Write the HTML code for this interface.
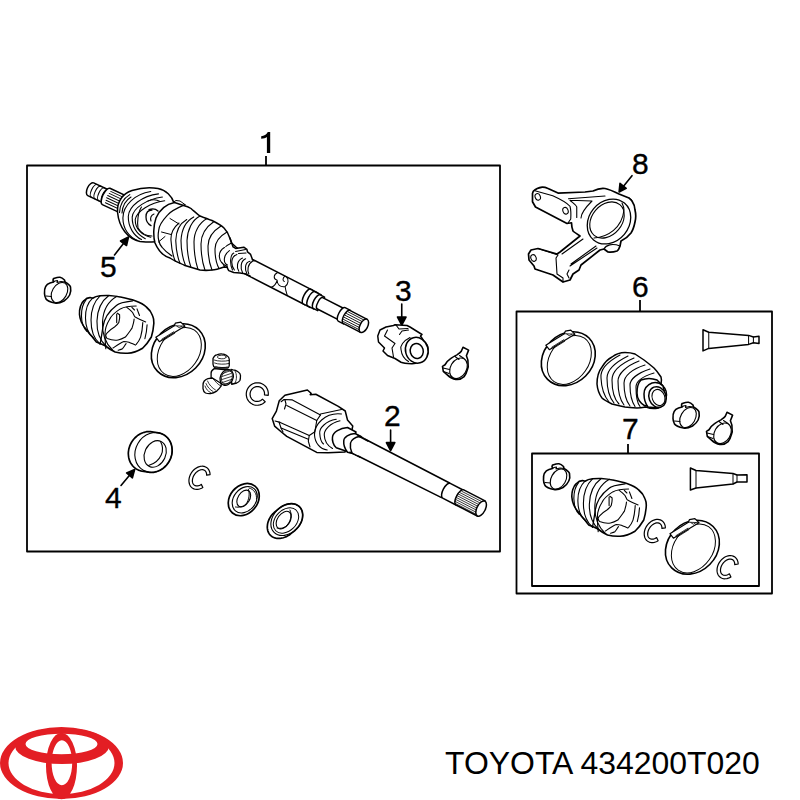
<!DOCTYPE html>
<html><head><meta charset="utf-8">
<style>
html,body{margin:0;padding:0;background:#fff;width:800px;height:800px;overflow:hidden}
svg{position:absolute;left:0;top:0}
.t{position:absolute;font-family:"Liberation Sans",sans-serif;color:#000;white-space:nowrap;transform-origin:0 0}
</style></head><body>
<svg width="800" height="800" viewBox="0 0 800 800" stroke-linejoin="round" stroke-linecap="round">
<g fill="none" stroke="#000" stroke-width="1.8" stroke-linecap="butt">
<rect x="27" y="165.5" width="473" height="386"/>
<rect x="516.5" y="311.5" width="255.5" height="282"/>
<rect x="532" y="453.5" width="227" height="132.5"/>
<line x1="266" y1="156" x2="266" y2="165.5"/>
<line x1="640" y1="300" x2="640" y2="311.5"/>
<line x1="628" y1="444" x2="628" y2="453.5"/>
</g>
<g font-family="Liberation Sans" font-size="30" fill="#000" stroke="#000" stroke-width="0.35">
<text x="632" y="296.5">6</text>
<text x="622" y="438.5">7</text>
<text x="632" y="174">8</text>
<text x="100" y="277">5</text>
<text x="395" y="301">3</text>
<text x="384" y="426">2</text>
<text x="105" y="508">4</text>
</g>
<path d="M266.9,153 L270.2,153 L270.2,132 L267.8,132 C266.5,134.5 264,136 261.2,136.3 L261.2,138.7 C263.8,138.6 265.5,137.9 266.9,137 Z" fill="#000"/>
<!-- arrows -->
<g stroke="#000" stroke-width="1.6" fill="#000">
<line x1="114.5" y1="255" x2="125" y2="241.5"/><path d="M128.5,237 L120.5,241 L126.5,245.5 Z"/>
<line x1="401.75" y1="304" x2="401.75" y2="319"/><path d="M401.75,325 L397.5,317 L406,317 Z"/>
<line x1="390.6" y1="430" x2="390.6" y2="444"/><path d="M390.6,450.6 L386.4,442.6 L394.8,442.6 Z"/>
<line x1="121" y1="485.5" x2="131" y2="473.5"/><path d="M134.7,469.4 L126.6,473 L132.4,477.8 Z"/>
<line x1="632" y1="175.7" x2="622.5" y2="187.5"/><path d="M619.1,192 L620,183.4 L626.2,188.3 Z"/>
</g>

<g id="parts" fill="#fff" stroke="#000" stroke-width="1.5">
<!-- PART 1 assembly -->
<g transform="translate(88,188) rotate(25)">
  <path d="M3,-7 L21,-7 L21,7 L3,7 A3.5,7 0 0 1 3,-7 Z"/>
  <path d="M7,-7 A3,7 0 0 0 7,7 M11,-7 A3,7 0 0 0 11,7 M15,-7 A3,7 0 0 0 15,7 M19,-7 A3,7 0 0 0 19,7" fill="none" stroke-width="1.1"/>
  <path d="M20,-9 L45,-9 L45,9 L20,9 A3.5,9 0 0 1 20,-9 Z"/>
  <path d="M22,-6.5 L45,-6.5 M21.5,-4 L45,-4 M21,-1.5 L45,-1.5 M21,1 L45,1 M21.5,3.5 L45,3.5 M22,6 L45,6" fill="none" stroke-width="0.9"/>
</g>
<!-- housing -->
<path d="M117.5,212 C117,200 124,193 132,190.5 C140,188 150,187 158,188.5 C166,190 172,196 174,203 L170,240 C162,242 150,242.5 140,241.5 C128,239 119,228 117.5,212 Z"/>
<g fill="none" stroke-width="1.1">
<path d="M119.5,212.5 C120,204 124,198 129.8,194.6 M122,213 C122.5,206 126,200 131,197"/>
<path d="M150.75,191.5 C135,194 123,205 122.9,217.9 C123,229 129,237 137.6,240.4"/>
<path d="M158.5,193.9 C142,196 129,206 128.3,216.3 C128,227 134,236 141.5,239.6"/>
<path d="M162.4,197 C147,199 133,208 132.2,217.1 C132,228 138,235 145.3,238.8"/>
<path d="M164.7,200.8 C150,203 137,211 135.25,219.4 C135,229 142,235 150.75,237.3"/>
<path d="M148,201 C152,199.5 156,199 160,201.5 M141.5,207 C138,212 137,222 138,228 C141,233 146,236 152,236"/>
<path d="M152,210 C148,210 146,213 146,217 C146,221 148,224 151,225.6 M149,209.5 C152,208.5 156,209 158,211" stroke-width="1.3"/>
<path d="M154,214 C151,215 150,218 151,221"/>
</g>
<!-- boot + band -->
<path d="M174.5,202.5 L183.5,205.5 C188,206.5 191,208.5 191,208.5 C195,212 198,215 200,216 C205,218 209,219.5 212,220.5 C217,223 221,225 224,228 C227,231 229,235 230,238.5 L231.5,243 L236,247 L240,250 L236,268 C232,268 228,267.5 224,267 C220,268.5 216,270 212,270 C208,270.5 204,270.5 200,270 C195,268.5 190,267 185,265.5 C180,263 174,261 170,258 C163,256 158,250 155,243 C153,236 153.5,225 156,218 C160,209 167,204 174.5,202.5 Z"/>
<path d="M185,204.6 C177,208 170,212 167.5,215.1 C162,221 159,226 158.75,230 C158,234 158,238 158.75,240.5 C159.5,244 160.5,246 162.25,247.5 C165,251 169,254 172,256" fill="none" stroke-width="1.2"/>
<path d="M170,218.5 L179,224 M161.5,232 L171,234.5 M158.5,242 L165,236.5 M173.6,202 L176,200.5 L180,201 L185,204.6" fill="none" stroke-width="1"/>
<g fill="none" stroke-width="1.1">
<path d="M179,223 C173,228 170.5,234 171,240.5 C171.5,248 173,256 175.4,261.5"/>
<path d="M186.75,219.5 C179,224 176,232 175.75,240.5 C176,248 177.5,257 180,263.5"/>
<path d="M193.75,216.9 C186,221 181.5,230 181,240.5 C181,249 182.5,258 185.5,265.5"/>
<path d="M200,216 C192,220 187.5,230 187,240.5 C187,250 188,259 191,267.5"/>
<path d="M207,218.5 C199,223 194,232 194,242 C194,251 195.5,262 198,269.5"/>
<path d="M214,221.5 C206,227 201,235 201,244 C201,253 202.5,263 205,270.3"/>
<path d="M221,226 C213,231 208,238 208,246 C208,255 209.5,264 212,270"/>
<path d="M227,232 C220,236 215,242 215,249 C215,257 216,263 219,268.5"/>
<path d="M231.5,243 C224,246 221,252 221.5,257 C222,262 223,265 225,267"/>
</g>
<!-- shaft -->
<g transform="translate(250,267.3) rotate(27.2)">
  <path d="M-2,-8.2 L66,-8.2 L66,8.2 L-2,8.2 Z" stroke="none"/>
  <path d="M-2,-8.2 L66,-8.2 M-2,8.2 L66,8.2" fill="none"/>
  <path d="M64,-8.2 L72,-8.2 L72,8.2 L64,8.2 A3.2,8.2 0 0 1 64,-8.2 Z"/>
  <path d="M69,-8 L76,-8 L76,8 L69,8 A3.2,8 0 0 1 69,-8 Z"/>
  <path d="M75,-7.6 L80,-7.6 L80,7.6 L75,7.6 A3,7.6 0 0 1 75,-7.6 Z"/>
  <path d="M79,-6.3 L104,-6.3 L104,6.3 L79,6.3 A2.6,6.3 0 0 1 79,-6.3 Z"/>
  <path d="M103,-7.6 L109,-7.6 L109,7.6 L103,7.6 A3,7.6 0 0 1 103,-7.6 Z"/>
  <path d="M108.5,-7.3 L128,-7.3 L128,7.3 L108.5,7.3 A3,7.3 0 0 1 108.5,-7.3 Z"/>
  <path d="M108,-5.2 L128,-5.2 M107,-3 L128,-3 M106.5,-0.8 L128,-0.8 M106.5,1.4 L128,1.4 M107,3.6 L128,3.6 M108,5.6 L128,5.6" fill="none" stroke-width="0.8"/>
  <ellipse cx="128" cy="0" rx="3.8" ry="7.3"/>
  <path d="M27,-8 C24,-4 26,0 30,-1 C32,3 36,4 40,1 C42,-3 40,-7 37,-8 M30,-1 C31,3 30,6 28,8 M40,1 C42,4 44,6 46,8 M35,-8 C34,-5 35,-3 37,-3" fill="none" stroke-width="1"/>
</g>
<!-- small clamp / neck -->
<path d="M224.4,247.5 C228,246 230.5,246 233.1,246.9 L235.6,248.4 L243.75,247.2 L246.9,249.4 L247.5,251.9 L250.6,254.4 L251.9,258.1 L252.5,260 L254.5,261 L252,276.5 L245,273.75 L240,273.1 L233.75,272.5 L228.75,270.6 C227.5,269 226.9,267.5 226.9,266.25 C221,262 219,259 219.4,256.9 C219.5,252 221,249 224.4,247.5 Z" stroke="none"/>
<path d="M230,238 L233.1,246.9 L235.6,248.4 L243.75,247.2 L246.9,249.4 L247.5,251.9 L250.6,254.4 L251.9,258.1 L252.5,260 L254,261 M226.9,266.25 C227.5,268 227.8,269.5 228.75,270.6 L233.75,272.5 L240,273.1 L245,273.75 L250,276" fill="none" stroke-width="1.5"/>
<g fill="none" stroke-width="1.1">
<path d="M224.4,247.5 C217.3,251.8 217.3,262.1 226.9,266.2"/>
<path d="M229.4,250.6 C223.0,255.1 223.0,263.0 227.5,265.0"/>
<path d="M233.8,253.1 C229.8,254.8 229.8,264.1 232.5,270.0"/>
<path d="M236.9,254.4 C230.6,256.6 230.6,265.2 234.4,270.0"/>
<path d="M242.5,258.1 C236.5,260.7 236.5,267.9 238.8,271.2"/>
<path d="M245.6,258.8 C240.3,261.0 240.3,268.6 242.5,272.5"/>
<path d="M250.0,261.2 C244.6,262.4 244.6,269.3 246.9,273.8"/>
<path d="M252.5,261.2 C247.3,264.1 247.3,270.9 248.8,273.8"/>
<path d="M235.6,251.5 L245.5,249.5 M238.5,253.5 L246,253"/>
</g>



<defs>
<g id="bigring">
<ellipse cx="0" cy="0" rx="24.5" ry="29.3" transform="rotate(45)" stroke-width="1.6"/>
<ellipse cx="1" cy="1.2" rx="19.5" ry="26.5" transform="rotate(35 1 1.2)" fill="none" stroke-width="1"/>
<path d="M-22.5,-13.5 L-4,-25 L-3,-27.5 L2.5,-28.5 L4.5,-26.5 L6.5,-24.5 L-19,-9 Z" stroke-width="1.2"/>
<path d="M-16.5,-11.5 L-4.5,-19 M-15.5,-10 L-3.5,-17.5 M-1.5,-24.5 L1,-23 L3.5,-24.5 M-4,-25 L6.5,-24.5" fill="none" stroke-width="0.8"/>
</g>
<g id="innerboot">
<path d="M79.5,314.5 C79,309 81,303 83.85,300.75 C86,298.5 88,297.5 90.1,297.6 L92.6,298.25 C95,296.5 97.5,296 100.1,295.75 C103,295.5 106,295.3 108.85,295.5 C113,295.8 117,296.3 120.1,297 C125,298 130,299 135.1,300.75 C140,302.5 144,304.5 146.35,307 C149.5,309.5 151.5,312.5 152.6,315.75 C153.6,318 154,321 153.85,323.25 C153.5,328 152.8,332.5 151.35,337 C149,341 146,345 142.6,348.25 C138,351 133,353 127.6,353.25 C123,353.5 119,353 115.1,352 C111,350 108,348 105.1,345.75 C102,344 99,343 96.35,342 C95,340.5 93.8,338.8 92.6,337 C90,334.5 88,332 86.35,329.5 C84,327 82.5,324.5 81.35,322 C80.3,319.5 79.7,317 79.5,314.5 Z" stroke-width="1.6"/>
<g fill="none" stroke-width="1.1">
<path d="M86.0,299.8 C79.8,307.4 79.8,324.8 87.0,331.5"/>
<path d="M92.6,298.2 C83.0,307.0 83.0,328.9 93.2,338.0"/>
<path d="M100.1,295.8 C88.1,307.0 88.1,333.3 99.5,343.5"/>
<path d="M108.8,295.5 C93.4,307.0 93.4,335.0 106.5,346.5"/>
<path d="M117.0,296.3 C98.4,306.8 98.4,336.4 112.5,350.0"/>
<path d="M132.6,300.9 C124,302 119,303 116.7,305.2 C109,311 104,319 102.9,327 C102,333 101,340 100,344.4" stroke-width="1.3"/>
<path d="M136.2,306 C129,306 124,307 120.3,308.9 C114,313 111,316 109.4,319.7 C106,325 105,330 105,334.2 C105,340 105.5,345 105.8,348.7"/>
<path d="M117.4,313.2 L119.6,314.7 C120,317 119.5,320 118.8,322.6 C117.5,325 116,326 114.5,327 C111,329 109,331 107.2,332.8 C106,334 105.5,336 105.8,335.7 C106,337 106.5,338 107.2,338.6 C111,340 115,340.5 118.1,340 C121,339.5 123,338.5 125.4,337.1 C128,334 130,331 131.9,328.4 C133,325 134,322 134.1,319"/>
<path d="M116.7,314 L116.7,322.6"/>
<path d="M126.8,307.4 C129,309 131,310.5 132.6,312.5 C133.5,314 134,315.5 134.8,316.8 C137,318 139,319 140.6,319.7 L145.7,321.9"/>
<path d="M131.9,307.4 L134.5,310 M137,308.9 L139.5,315.5"/>
<path d="M142.8,322.6 C142.5,328 141.8,333 140.6,337.1 C139.5,340 138,342.5 136.2,344.4 M147.1,324.8 C146.8,330 146,335 144.9,338.6"/>
<path d="M113,348 C116,346 120,343 123.9,341.5 C126,341.5 127.5,341.8 129,342.2 C131,343 133,344 135.5,345.1 M118.1,350.2 C119.5,349.8 121,349.5 122.5,348.7 C124,347 125,345 126.1,343.7"/>
</g>
</g>
<g id="clamp1">
<path d="M-13,3.5 C-13.5,-3 -10.5,-6 -7.5,-7 L-4,-8 L-4.5,-10 L-4,-11.5 C-1,-12.5 0,-13 2.5,-12.75 C4,-12.5 6,-11 7,-10 L7.5,-8 C10,-6.5 12.5,-5 13,-3 C14,2 12.5,7 6.5,11 C2.5,13 -0.5,13.5 -2.5,13 C-7.5,12 -10.5,10.5 -11.5,9 C-12.5,7 -13,5 -13,3.5 Z" fill="#fff" stroke-width="1.6"/>
<ellipse cx="2" cy="2.5" rx="7.3" ry="10.8" transform="rotate(30 2 2.5)" fill="none" stroke-width="1.1"/>
<path d="M-11.5,6 L-6,6.5 M-4,-8 L-2.5,-9 L0,-9.5 L-0.5,-7.5 L3.5,-8.5 L7.5,-8" fill="none" stroke-width="1.1"/>
</g>
<g id="clamp2">
<path d="M8,-17.7 L13.6,-14.9 L11.4,-9.25 C12.8,-6 13.2,-4 13,-2.5 C13.5,1 13.2,3 12.5,4.25 C11.5,8 10.5,10 9.1,11.6 C6.5,14 3.5,14.8 0.7,14.4 C-3,14 -5.5,12 -7.75,9.9 L-11.7,6.5 L-12.5,1.4 L-10,-0.25 C-8.5,-3 -6.5,-5 -4.4,-6.4 C-1.5,-8.5 0.5,-9.5 2.4,-10.4 C4,-11.5 5.5,-12.5 6.3,-13.75 Z" fill="#fff" stroke-width="1.6"/>
<ellipse cx="3.5" cy="3.3" rx="8" ry="11" transform="rotate(30 3.5 3.3)" fill="none" stroke-width="1.1"/>
<path d="M-0.3,-8.7 L4,-5.5 M4.5,-9.5 L9,-6.5 M-12,3 L-5.5,4.5 M-11.5,6.5 L-6,8.5" fill="none" stroke-width="1.1"/>
</g>
</defs>
<use href="#clamp1" x="57.5" y="290"/>

<use href="#bigring" x="178.3" y="350.7"/>
<use href="#innerboot"/>

<!-- tripod -->
<path stroke-width="1.3" d="M214.25,368.6 C212,370 211,372 211.1,373 L211.1,378 L220,384 L228,370 Z"/>
<path stroke-width="1.3" d="M231,369.5 L233,369.9 C235,370 237,371 238,371.75 C240,373 240.5,374 240.5,375.5 C240.5,377 240.5,379 239.9,380.5 C239,382 238,382.5 236.75,383 L231.75,384.25 Z"/>
<path d="M235,371 C237,374 237,380 235,383" fill="none" stroke-width="0.8"/>
<path stroke-width="1.3" d="M213,358.6 C214,356 215.5,355 216.75,354.9 C219,354 221,353.8 221.75,353.9 C224,354 226,355 226.75,355.5 C228.5,356.5 229.25,358 229.25,359.25 L229.25,365.5 C229,367 228,368 227.4,368 L215.5,368 C214,367 213,365.5 213,364.25 Z"/>
<g fill="none" stroke-width="0.8">
<path d="M214,360 C218,361.5 225,361.5 229,360.5 M214.5,363 C218,364.5 225,364.5 229,363.5 M215.5,366.5 C219,367.8 225,367.8 227.5,367"/>
<ellipse cx="221.75" cy="357" rx="4.4" ry="1.8"/>
</g>
<ellipse stroke-width="1.3" cx="226.75" cy="377.4" rx="6.3" ry="8.2" transform="rotate(25 226.75 377.4)"/>
<g fill="none" stroke-width="0.75">
<ellipse cx="226.9" cy="377.3" rx="5.2" ry="7" transform="rotate(25 226.9 377.3)"/>
<path d="M223,373.5 L229.5,371 M222,376.5 L231,373.5 M222,379.5 L231.5,376.5 M222.5,382.5 L231,379.5 M224.5,384.5 L230,382.5"/>
</g>
<path stroke-width="1.3" d="M203,385.5 C203,383 203.5,382 204.25,381 C205.5,379.5 207,378.8 208,378.6 L212.4,378 L220.5,383 C221.5,384 221.5,385 221.1,386 C219.5,388.5 218,390 216.75,391.1 C214.5,392.5 212.5,393.3 210.5,393.6 C208.5,393.8 207,393.5 205.5,393 C204,392 203.2,390.5 203,388.6 Z"/>
<path d="M205,386 C206,389 208,391.5 210.5,392.5 M206,383.5 C207.5,387 210,390 213,391.5 M207.5,381 C209,384.5 212,388 215.5,390 M212.4,378 C215,381 218,385 221,386" fill="none" stroke-width="0.8"/>

<!-- PART 2 housing + shaft -->
<path d="M284.9,395.2 L307.4,390 L311.1,393.3 L310.2,394.7 L315.8,394.25 L338.3,406.4 L345.25,411 L347.5,420 L352.75,426 L352,429.75 L345,452 L328,452.8 L316.75,452.4 L286.75,436.4 L281.1,431.75 L274.6,426.1 L272.2,418.6 L276.4,411.1 L279.25,400.8 Z"/>
<g fill="none" stroke-width="1.1">
<path d="M281.1,401.75 L284,399.5 L292.4,399.9 L320.5,414.9 M286.75,405.5 L316.75,420.5"/>
<path d="M285,400 L286,404 L284.5,409 M279,422 L281,428 L283,432"/>
<path d="M320.5,414.9 L316.75,420.5 L314.9,431.75 L309.25,435.5 L308.3,441.1 L310,447"/>
<path d="M275,421 L280.2,422.4 L309.25,435.5 M281.1,428 L308.3,439.25"/>
<path d="M320.5,414 L341.5,409.5"/>
<path d="M341.5,414 C325,412 314,425 314.5,435 C315,443 320,449 327.25,450"/>
<path d="M336.25,419.25 C326,421 319,428 319.75,433.5 C320,438 321,442 323.5,444"/>
<path d="M340,420.75 C330,423 324,430 324.25,435 C324.5,441 328,446 332.5,448.5"/>
</g>
<!-- shaft 2 -->
<path d="M358,435.5 L449.6,483 L441.5,497.7 L350,452 Z"/>
<!-- neck cylinders -->
<path d="M347.5,427.5 L356,432 L350,452.5 L336.25,447.75 C333,445 332,440 332.5,437 C333,432 340,428 347.5,427.5 Z"/>
<path d="M355,433.5 L361,436.5 L353,453.5 L347.5,452.25 C345,449 343.5,444 343.75,441 C344,437 349,434 355,433.5 Z"/>
<path d="M359.5,436.5 L366,439.5 L358,456 L352,453 C350.5,450 350,446 350.5,443 C351,440 355,437 359.5,436.5 Z" stroke="none"/>
<path d="M361.75,437.25 L359.5,436.5 C355,437 351,440 350.5,443 C350,446 350.5,450 352,453" fill="none"/>
<path d="M358,435.8 L368,441 M350,452.2 L360,457.2" fill="none"/>
<g transform="translate(370,451.35) rotate(27.25)">
  <path d="M86,-8.3 L101,-8.3 L101,8.3 L86,8.3 A3.5,8.3 0 0 1 86,-8.3 Z"/>
  <path d="M101,-8.6 L125,-8.6 L125,8.3 L101,8.3 A3.5,8.3 0 0 1 101,-8.6 Z"/>
  <path d="M100,-6.5 L125,-6.5 M98.5,-4.5 L125,-4.5 M98,-2.5 L125,-2.5 M97.7,-0.5 L125,-0.5 M97.7,1.5 L125,1.5 M98,3.5 L125,3.5 M98.5,5.5 L125,5.5 M99.5,7.3 L125,7.3" fill="none" stroke-width="0.7"/>
  <ellipse cx="125" cy="0" rx="4.2" ry="8.3"/>
</g>

<!-- PART 3 -->
<path d="M377.75,336 L380,330 L386,327 L393.5,325.5 L395,324.75 L407,325.5 L410,327 L422,334.5 L420.5,336 L423.5,340.5 C426,343 428,346 428,348 C428.5,352 427.5,355 426.5,357 C425,359 423,361 420.5,361.5 C417,363 414,364 411.5,363.75 C407,363.5 403,363 401,362.25 L395,358.5 L387.5,355.5 L383,351 L384.5,348 L381.5,345 L378.5,342 Z"/>
<ellipse cx="416.75" cy="350.25" rx="11.25" ry="13" transform="rotate(-15 416.75 350.25)"/>
<ellipse cx="416.75" cy="351" rx="6.5" ry="7.5" transform="rotate(-15 416.75 351)"/>
<g fill="none" stroke-width="1.1">
<path d="M410,337.5 C403,341 400,346 401,349.5 C401.5,354 404,359 408.5,361.5"/>
<path d="M387.5,330 L384.5,336 L395,343.5 L392,348 L393.5,357"/>
<path d="M399.5,334.5 L402,331 L408.5,330 M396,325 L399,329 L408,328.5"/>
</g>
<use href="#clamp2" x="455" y="365"/>

<!-- ring 4 -->
<path d="M128.3,453.3 L128.4,451.9 L128.6,450.5 L128.8,449.1 L129.2,447.7 L129.6,446.4 L130.1,445.1 L130.7,443.8 L131.4,442.5 L132.2,441.3 L133.0,440.1 L133.9,439.0 L134.8,438.0 L135.9,437.0 L136.9,436.1 L138.0,435.2 L139.2,434.5 L140.4,433.8 L141.6,433.2 L142.9,432.7 L144.2,432.3 L145.5,432.0 L146.8,431.7 L148.1,431.6 L149.4,431.6 L150.7,431.7 L151.9,431.8 L158.4,432.8 L159.7,433.1 L160.9,433.5 L162.1,433.9 L163.2,434.4 L164.3,435.1 L165.3,435.8 L166.3,436.6 L167.2,437.5 L168.1,438.4 L168.8,439.4 L169.5,440.5 L170.2,441.6 L170.7,442.8 L171.2,444.1 L171.5,445.3 L171.8,446.6 L172.0,448.0 L172.1,449.3 L172.2,450.7 L172.1,452.1 L171.9,453.5 L171.7,454.9 L171.3,456.3 L170.9,457.6 L170.4,458.9 L169.8,460.2 L169.1,461.5 L168.3,462.7 L167.5,463.9 L166.6,465.0 L165.7,466.0 L164.6,467.0 L163.6,467.9 L162.5,468.8 L161.3,469.5 L160.1,470.2 L158.9,470.8 L157.6,471.3 L156.3,471.7 L155.0,472.0 L153.7,472.3 L152.4,472.4 L151.1,472.4 L149.8,472.3 L148.6,472.2 L142.1,471.2 L140.8,470.9 L139.6,470.5 L138.4,470.1 L137.3,469.6 L136.2,468.9 L135.2,468.2 L134.2,467.4 L133.3,466.5 L132.4,465.6 L131.7,464.6 L131.0,463.5 L130.3,462.4 L129.8,461.2 L129.3,459.9 L129.0,458.7 L128.7,457.4 L128.5,456.0 L128.4,454.7 Z" stroke-width="1.7"/>
<ellipse cx="153.5" cy="452.5" rx="18" ry="20.5" transform="rotate(30 153.5 452.5)" fill="none" stroke-width="1.1"/>
<ellipse cx="155.2" cy="453.9" rx="10.5" ry="13.8" transform="rotate(25 155.2 453.9)" fill="none" stroke-width="1.1"/>
<path d="M160.5,441.5 C163,446 163,451 161.2,455 C159,460 154,464 148.5,465.5" fill="none" stroke-width="1.1"/>

<!-- ring A -->
<ellipse cx="243.75" cy="499.6" rx="13.9" ry="17.5" transform="rotate(40 243.75 499.6)" stroke-width="1.7"/>
<ellipse cx="244.75" cy="499.75" rx="11" ry="14.5" transform="rotate(40 244.75 499.75)" fill="none" stroke-width="1.1"/>
<path d="M249,488 C254,489 257,494 256.5,499" fill="none" stroke-width="0.9"/>
<ellipse cx="243.75" cy="498.5" rx="5.8" ry="9.2" transform="rotate(32 243.75 498.5)" fill="none" stroke-width="1.1"/>
<path d="M248.5,489.5 C250,494 249,500 246,504 C243,507 239,507.5 235.5,507" fill="none" stroke-width="1"/>

<!-- ring B -->
<path d="M267.3,526.7 L267.4,525.6 L267.5,524.5 L267.7,523.4 L268.0,522.3 L268.4,521.1 L268.8,520.0 L269.3,519.0 L269.9,517.9 L270.5,516.8 L271.2,515.8 L272.0,514.8 L272.8,513.9 L273.7,513.0 L274.6,512.1 L275.5,511.3 L279.1,508.4 L280.1,507.6 L281.1,506.9 L282.2,506.3 L283.3,505.7 L284.3,505.2 L285.4,504.8 L286.6,504.4 L287.7,504.1 L288.8,503.9 L289.9,503.8 L291.0,503.7 L292.0,503.7 L293.0,503.8 L294.1,504.0 L295.0,504.2 L296.0,504.5 L296.8,504.9 L297.7,505.4 L298.5,505.9 L299.2,506.5 L299.9,507.2 L300.5,507.9 L301.0,508.7 L301.5,509.6 L301.9,510.4 L302.2,511.4 L302.4,512.3 L302.6,513.4 L302.7,514.4 L302.7,515.4 L302.6,516.5 L302.5,517.6 L302.3,518.7 L302.0,519.8 L301.6,521.0 L301.2,522.1 L300.7,523.1 L300.1,524.2 L299.5,525.3 L298.8,526.3 L298.0,527.3 L297.2,528.2 L296.3,529.1 L295.4,530.0 L294.5,530.8 L290.9,533.7 L289.9,534.5 L288.9,535.2 L287.8,535.8 L286.7,536.4 L285.7,536.9 L284.6,537.3 L283.4,537.7 L282.3,538.0 L281.2,538.2 L280.1,538.3 L279.0,538.4 L278.0,538.4 L277.0,538.3 L275.9,538.1 L275.0,537.9 L274.0,537.6 L273.2,537.2 L272.3,536.7 L271.5,536.2 L270.8,535.6 L270.1,534.9 L269.5,534.2 L269.0,533.4 L268.5,532.5 L268.1,531.7 L267.8,530.7 L267.6,529.8 L267.4,528.7 L267.3,527.7 Z" stroke-width="1.7"/>
<ellipse cx="286.8" cy="519.6" rx="13.5" ry="18" transform="rotate(45 286.8 519.6)" fill="none" stroke-width="1.1"/>
<ellipse cx="286" cy="520.5" rx="10.5" ry="14.5" transform="rotate(45 286 520.5)" fill="none" stroke-width="1"/>
<ellipse cx="283.7" cy="520.1" rx="6.2" ry="9.8" transform="rotate(35 283.7 520.1)" fill="none" stroke-width="1.1"/>
<path d="M290,510 C292,514 291,520 288,524 C285,528 281,529 277,528" fill="none" stroke-width="1"/>

<!-- PART 8 knuckle -->
<path stroke-width="1.7" d="M533.25,191.25 C536,188.5 539,187.5 542.25,187.1 C545,187 546,187.5 547.5,188.25 L558,193.1 L585,192 L593,191 C597,189 601,188 605,188.5 C610,189.5 614,191.5 619,194 L629,198 L632,201 C634,204 635,207 635,210 C636,214 636,218 635,222 C634,227 633,230 631,233 C628,237 625,239 621,241 L620,246 C619,249 618,250.5 617,251 C614,252 611,252.5 608,252 L604,249 L600,250 L581,265 L579,270 L573,274 L570,280 L563,282 L553,275 L535,269 L534,266 L529,260 L528.5,254 L531,250 L538,248.5 L557,254 L560,252 L580,236 C577,234 574,232 573,231 C572,228 571.5,225 571.5,222.75 L567,223.5 L535.5,207 L532.5,201.75 L532.5,193.5 Z"/>
<g fill="none" stroke-width="1.1">
<path d="M534,190.5 L552.75,195.75 C560,199 567,203 570,206.25 C571,210 571,215 570.75,219 L568,223"/>
<ellipse cx="537.75" cy="196.9" rx="2.6" ry="3.4" transform="rotate(-20 537.75 196.9)"/>
<ellipse cx="565.5" cy="210.75" rx="2.6" ry="3.4" transform="rotate(-20 565.5 210.75)"/>
<path d="M568.5,198.75 L605,196 M570,200.25 L592,201 C585,208 581,214 581,218 M570,200.25 C573,203 576,205 576.75,207 L576.75,217.5"/>
<ellipse cx="609" cy="221.5" rx="20" ry="24" transform="rotate(40 609 221.5)" stroke-width="1.3"/>
<ellipse cx="607" cy="220" rx="15" ry="20" transform="rotate(40 607 220)"/>
<path d="M594,238 C608,237 622,228 624,210 C624,207 623,205 622,203"/>
<path d="M604,249 C606,245 612,243 620,246 M629,198 C631,199 632,200 632,201"/>
<path d="M538,248.5 L558,255 L556,258 L557,274 L563,278 L563,282"/>
<ellipse cx="533.5" cy="258" rx="2.6" ry="3.4" transform="rotate(-20 533.5 258)"/>
<path d="M562,254 L583,239 M570,266 L597,248 M571,264 L596,246 M569,270 L567,274 L569,278"/>
</g>

<!-- BOX 6 -->
<use href="#bigring" x="568.3" y="358.7"/>
<!-- boot 6 -->
<path d="M625,352.5 C629,352.5 632,353 635,354 C638,356 641,358 644,360 C648,363 651,365.5 654,368 C657,371 659,374 661,377 C662,380 661.5,382 661,384 L663,386 C666,389 667,394 666,398 C665,403 662,407 658,408 C654,409 650,408.5 646,407 C643,407.5 640,408 637,408 C632,407.8 628,407.5 625,407 C620,406 616,405 612,404 C608,402 604,400 602,398 C599,394 597.5,390 597,384 C597,378 598,372 602,367 C605,362 608,359 612,357 C616,354 620,352.5 625,352.5 Z"/>
<g fill="none" stroke-width="1.1">
<path d="M620,355 C607,362 600,370 601,378 C601.5,390 604,396 609,402"/>
<path d="M628,356 C614,363 607,370 607,378 C607,390 609,397 614,403"/>
<path d="M634,358 C620,364 612,372 612,380 C612,392 614,399 619,404"/>
<path d="M639,361 C626,366 618,374 618,381 C618,393 620,400 624,405"/>
<path d="M645,365 C632,369 624,376 624,383 C624,394 626,401 630,406"/>
<path d="M650,369 C638,373 630,379 630,385 C630,396 632,402 635,406.5"/>
<path d="M654,373 C644,376 636,381 636,387 C636,397 637,403 640,406.5"/>

</g>
<path d="M641,380 C646,378 652,378 657,380 L662,385 L660,402 L645,406 C640,403 637,398 637,393 C637,387 638,383 641,380 Z"/>
<path d="M652,383 C656,382 660,383 663,386 L666,398 L658,408 L648,407 C645,403 644,398 644,394 C644,389 647,385 652,383 Z"/>
<ellipse cx="657.5" cy="397" rx="8.5" ry="10.5" transform="rotate(-20 657.5 397)"/>
<ellipse cx="658.5" cy="397.5" rx="6.3" ry="8.3" fill="none" stroke-width="1.1" transform="rotate(-20 658.5 397.5)"/>

<!-- tube 6 -->
<path d="M703,329.75 L708.75,332.2 L748.6,335.4 L753.4,337 L759,336.3 L759,343.6 L753.4,342.75 L748.6,344.4 L708.75,348.4 L703,350.9 Z"/>
<path d="M708.75,332.2 L708.75,348.4 M748.6,335.4 L748.6,344.4 M753.4,337 L753.4,342.75" fill="none" stroke-width="1"/>
<use href="#clamp1" x="686" y="415"/>
<use href="#clamp2" x="719" y="430"/>

<!-- BOX 7 -->
<use href="#clamp1" x="556.5" y="476.5"/>
<!-- boot 7 -->
<use href="#innerboot" x="492.4" y="183"/>
<!-- tube 7 -->
<path d="M690.4,468 L696,470.5 L733,473.5 L737,475 L747,474.8 L747,482 L737,482 L733,484 L696,488 L690.4,490 Z"/>
<path d="M696,470.5 L696,488 M733,473.5 L733,484 M737,475 L737,482" fill="none" stroke-width="1"/>
<!-- clamp ring 7 -->
<use href="#bigring" x="692.4" y="547.2"/>
</g>

<!-- C rings (double outline) -->
<g fill="#fff" stroke="#000" stroke-width="1.2">
<path d="M265.17,401.76 L264.01,402.83 L262.71,403.72 L261.30,404.43 L259.82,404.92 L258.29,405.20 L256.73,405.26 L255.19,405.09 L253.69,404.71 L252.26,404.11 L250.93,403.31 L249.73,402.33 L248.68,401.18 L247.79,399.89 L247.10,398.48 L246.61,396.99 L246.33,395.43 L246.27,393.85 L246.43,392.26 L246.80,390.72 L247.38,389.24 L248.16,387.85 L249.12,386.59 L250.24,385.47 L251.50,384.52 L252.88,383.76 L254.34,383.20 L255.86,382.86 L257.42,382.73 L258.96,382.84 L260.48,383.16 L261.93,383.70 L263.29,384.44 L264.54,385.37 L265.63,386.47 L266.57,387.72 L267.32,389.10 L267.87,390.57 L268.21,392.11 L268.33,393.69 L268.24,395.28 L264.47,394.81 L264.54,393.76 L264.46,392.72 L264.24,391.70 L263.88,390.72 L263.39,389.81 L262.79,388.99 L262.07,388.26 L261.26,387.65 L260.37,387.16 L259.42,386.81 L258.42,386.60 L257.41,386.53 L256.39,386.62 L255.39,386.85 L254.43,387.23 L253.53,387.73 L252.70,388.37 L251.96,389.11 L251.33,389.95 L250.81,390.87 L250.43,391.86 L250.18,392.88 L250.07,393.93 L250.10,394.98 L250.28,396.01 L250.60,397.00 L251.05,397.93 L251.62,398.78 L252.31,399.54 L253.10,400.19 L253.97,400.71 L254.90,401.11 L255.88,401.36 L256.89,401.46 L257.91,401.42 L258.92,401.23 L259.89,400.90 L260.82,400.43 L261.67,399.83 L262.44,399.12 Z"/>
<path d="M202.83,487.53 L201.55,488.24 L200.24,488.79 L198.91,489.17 L197.60,489.37 L196.31,489.38 L195.08,489.22 L193.91,488.88 L192.83,488.36 L191.86,487.68 L191.00,486.84 L190.28,485.87 L189.71,484.76 L189.28,483.55 L189.02,482.24 L188.92,480.87 L188.99,479.45 L189.22,478.00 L189.61,476.55 L190.16,475.12 L190.85,473.73 L191.68,472.41 L192.63,471.17 L193.69,470.03 L194.84,469.02 L196.06,468.14 L197.34,467.41 L198.65,466.85 L199.97,466.46 L201.29,466.24 L202.58,466.21 L203.82,466.36 L204.99,466.69 L206.08,467.19 L207.06,467.85 L207.93,468.68 L208.66,469.64 L209.25,470.74 L209.69,471.94 L209.96,473.24 L210.08,474.61 L206.62,475.15 L206.60,474.21 L206.47,473.33 L206.23,472.52 L205.89,471.78 L205.45,471.15 L204.91,470.61 L204.29,470.19 L203.59,469.89 L202.83,469.72 L202.01,469.66 L201.16,469.74 L200.28,469.94 L199.39,470.27 L198.50,470.71 L197.63,471.27 L196.78,471.93 L195.98,472.67 L195.24,473.50 L194.56,474.40 L193.95,475.35 L193.44,476.34 L193.02,477.35 L192.70,478.37 L192.49,479.38 L192.38,480.36 L192.39,481.31 L192.51,482.20 L192.74,483.02 L193.08,483.76 L193.51,484.40 L194.04,484.94 L194.66,485.37 L195.35,485.69 L196.10,485.87 L196.91,485.94 L197.76,485.87 L198.64,485.68 L199.53,485.36 L200.42,484.93 L201.30,484.38 Z"/>
<path d="M658.13,540.73 L656.85,541.44 L655.54,541.99 L654.21,542.37 L652.90,542.57 L651.61,542.58 L650.38,542.42 L649.21,542.08 L648.13,541.56 L647.16,540.88 L646.30,540.04 L645.58,539.07 L645.01,537.96 L644.58,536.75 L644.32,535.44 L644.22,534.07 L644.29,532.65 L644.52,531.20 L644.91,529.75 L645.46,528.32 L646.15,526.93 L646.98,525.61 L647.93,524.37 L648.99,523.23 L650.14,522.22 L651.36,521.34 L652.64,520.61 L653.95,520.05 L655.27,519.66 L656.59,519.44 L657.88,519.41 L659.12,519.56 L660.29,519.89 L661.38,520.39 L662.36,521.05 L663.23,521.88 L663.96,522.84 L664.55,523.94 L664.99,525.14 L665.26,526.44 L665.38,527.81 L661.92,528.35 L661.90,527.41 L661.77,526.53 L661.53,525.72 L661.19,524.98 L660.75,524.35 L660.21,523.81 L659.59,523.39 L658.89,523.09 L658.13,522.92 L657.31,522.86 L656.46,522.94 L655.58,523.14 L654.69,523.47 L653.80,523.91 L652.93,524.47 L652.08,525.13 L651.28,525.87 L650.54,526.70 L649.86,527.60 L649.25,528.55 L648.74,529.54 L648.32,530.55 L648.00,531.57 L647.79,532.58 L647.68,533.56 L647.69,534.51 L647.81,535.40 L648.04,536.22 L648.38,536.96 L648.81,537.60 L649.34,538.14 L649.96,538.57 L650.65,538.89 L651.40,539.07 L652.21,539.14 L653.06,539.07 L653.94,538.88 L654.83,538.56 L655.72,538.13 L656.60,537.58 Z"/>
<path d="M730.93,576.93 L729.65,577.64 L728.34,578.19 L727.01,578.57 L725.70,578.77 L724.41,578.78 L723.18,578.62 L722.01,578.28 L720.93,577.76 L719.96,577.08 L719.10,576.24 L718.38,575.27 L717.81,574.16 L717.38,572.95 L717.12,571.64 L717.02,570.27 L717.09,568.85 L717.32,567.40 L717.71,565.95 L718.26,564.52 L718.95,563.13 L719.78,561.81 L720.73,560.57 L721.79,559.43 L722.94,558.42 L724.16,557.54 L725.44,556.81 L726.75,556.25 L728.07,555.86 L729.39,555.64 L730.68,555.61 L731.92,555.76 L733.09,556.09 L734.18,556.59 L735.16,557.25 L736.03,558.08 L736.76,559.04 L737.35,560.14 L737.79,561.34 L738.06,562.64 L738.18,564.01 L734.72,564.55 L734.70,563.61 L734.57,562.73 L734.33,561.92 L733.99,561.18 L733.55,560.55 L733.01,560.01 L732.39,559.59 L731.69,559.29 L730.93,559.12 L730.11,559.06 L729.26,559.14 L728.38,559.34 L727.49,559.67 L726.60,560.11 L725.73,560.67 L724.88,561.33 L724.08,562.07 L723.34,562.90 L722.66,563.80 L722.05,564.75 L721.54,565.74 L721.12,566.75 L720.80,567.77 L720.59,568.78 L720.48,569.76 L720.49,570.71 L720.61,571.60 L720.84,572.42 L721.18,573.16 L721.61,573.80 L722.14,574.34 L722.76,574.77 L723.45,575.09 L724.20,575.27 L725.01,575.34 L725.86,575.27 L726.74,575.08 L727.63,574.76 L728.52,574.33 L729.40,573.78 Z"/>
</g>

<!-- toyota logo -->
<g fill="#e31e24" fill-rule="evenodd">
<path d="M0,763 A61.5,36 0 1 0 123,763 A61.5,36 0 1 0 0,763 Z M8.5,763 A53,31 0 1 1 114.5,763 A53,31 0 1 1 8.5,763 Z"/>
<path d="M15,746 A47,18 0 1 0 109,746 A47,18 0 1 0 15,746 Z M25.5,744 A36,10.3 0 1 1 97.5,744 A36,10.3 0 1 1 25.5,744 Z"/>
<path d="M46,766 A15.5,33.3 0 1 0 77,766 A15.5,33.3 0 1 0 46,766 Z M51.6,762.8 A10.3,22.5 0 1 1 72.2,762.8 A10.3,22.5 0 1 1 51.6,762.8 Z"/>
</g>
</svg>
<div class="t" style="left:445px;top:746px;font-size:31px;transform:scaleX(1.03)">TOYOTA 434200T020</div>
</body></html>
